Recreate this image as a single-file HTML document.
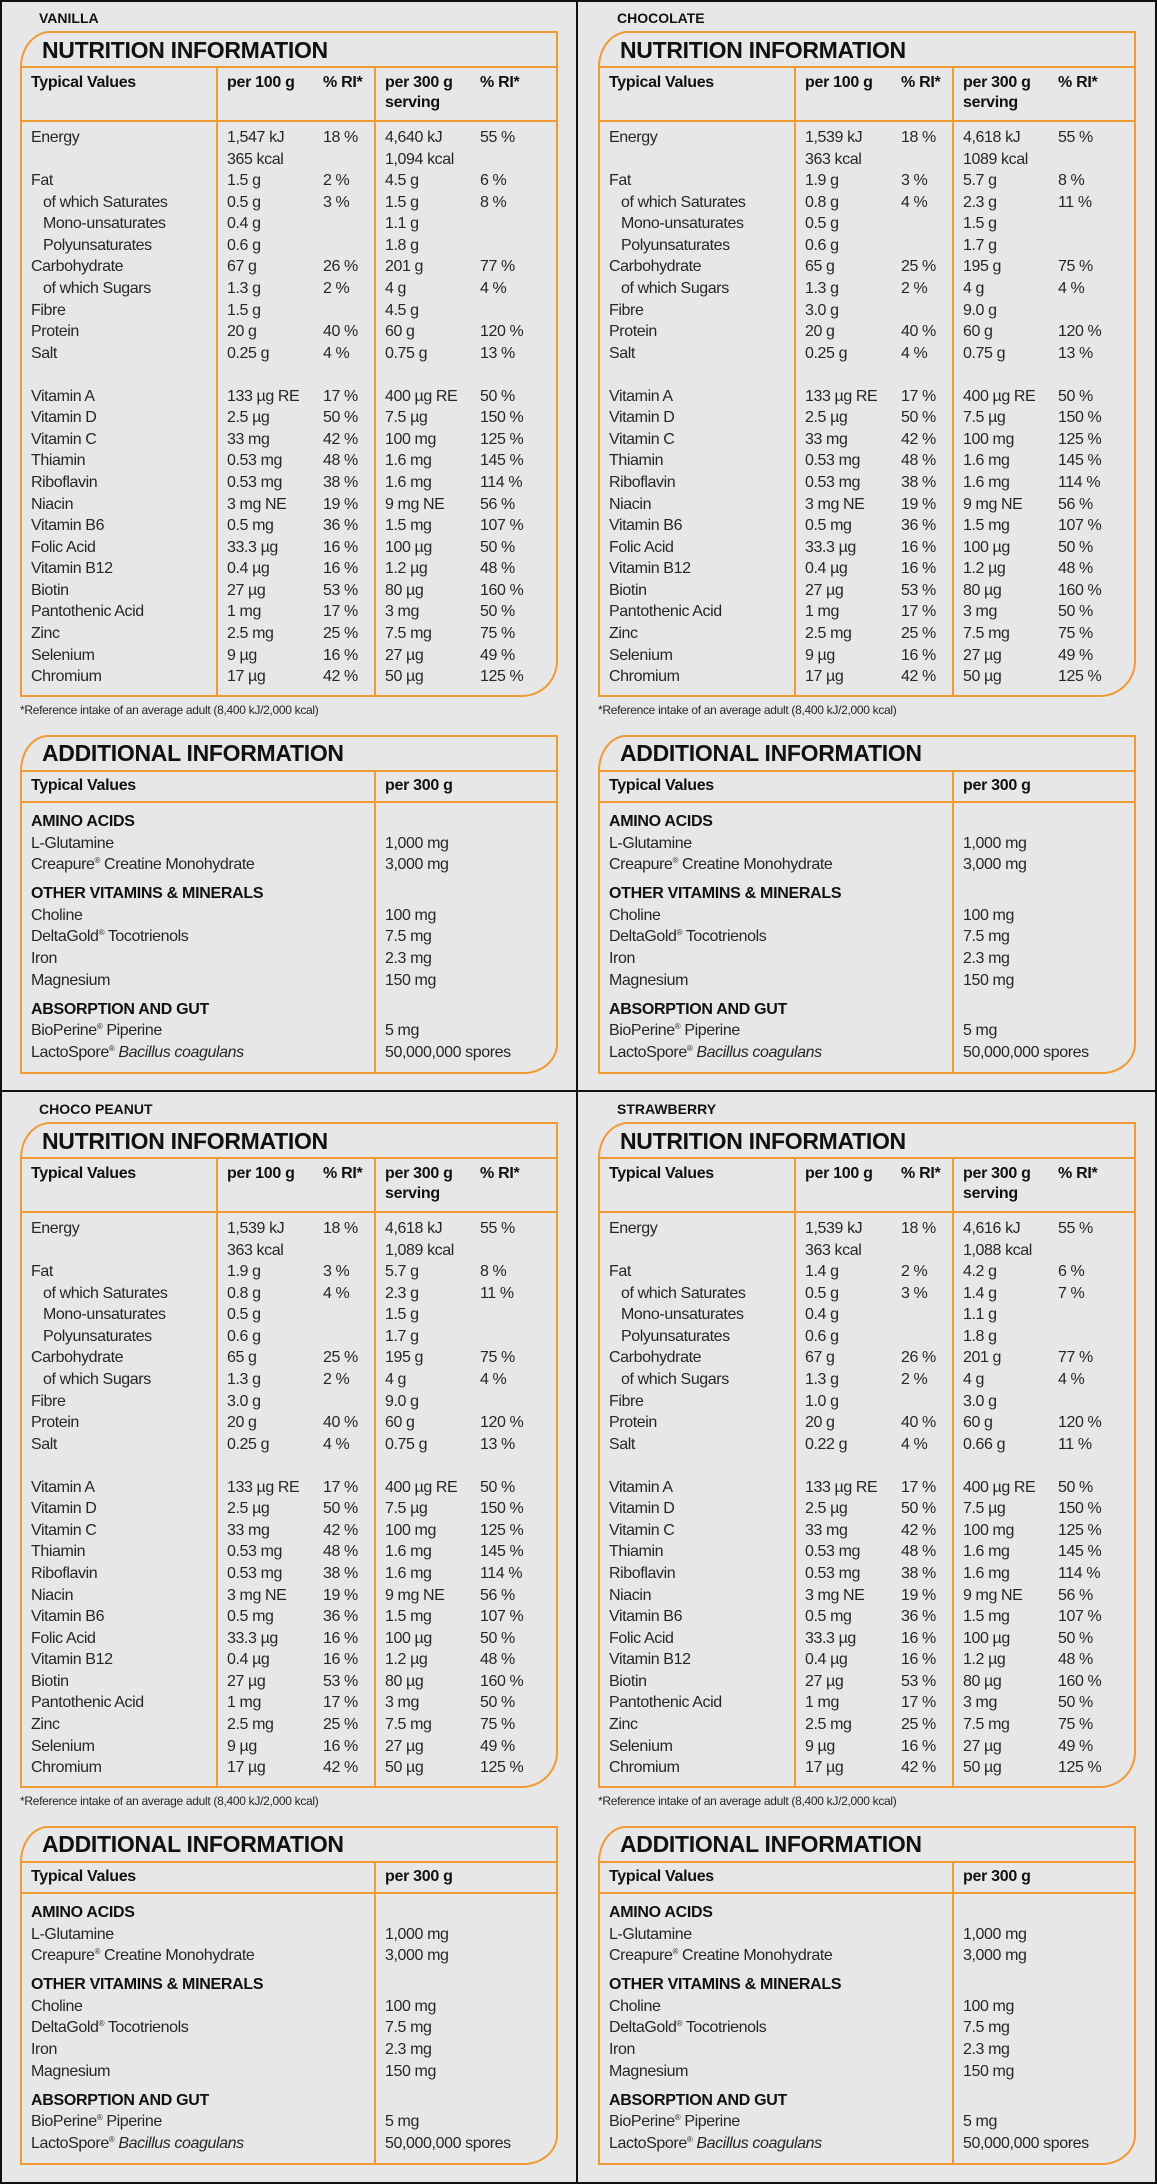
<!DOCTYPE html>
<html><head><meta charset="utf-8"><style>
*{box-sizing:border-box;margin:0;padding:0}
html,body{width:1157px;height:2184px;overflow:hidden;background:#e7e7e7}
body{position:relative;font-family:"Liberation Sans",sans-serif;color:#262626}
.frame{position:absolute;left:0;top:0;width:1157px;height:2184px;border:2px solid #111}
.vl{position:absolute;left:576px;top:0;width:2px;height:2184px;background:#111}
.hl{position:absolute;left:0;top:1090px;width:1157px;height:2px;background:#111}
.q{position:absolute;width:578px;height:1091px}
.lab{position:absolute;left:39px;top:10px;font-weight:bold;font-size:14px;color:#111}
.box{position:absolute;left:20px;width:538px;border:2px solid #f09a33}
.nb{top:31px;height:666px;border-radius:30px 0 36px 0/36px 0 36px 0}
.ab{top:735px;height:339px;border-radius:28px 0 34px 0/36px 0 30px 0}
.h{position:absolute;left:20px;width:538px;height:2px;background:#f09a33}
.v{position:absolute;width:2px;background:#f09a33}
.title{position:absolute;left:42px;font-weight:bold;font-size:23px;color:#111;letter-spacing:-0.3px;line-height:26px}
.g{position:absolute;left:31px;display:grid;grid-template-columns:196px 96px 62px 95px 70px;font-size:16px;line-height:21.57px;letter-spacing:-0.4px;white-space:nowrap}
.hd{position:absolute;left:31px;display:grid;grid-template-columns:196px 96px 62px 95px 70px;font-size:16px;font-weight:bold;line-height:20px;color:#111;letter-spacing:-0.3px}
.in{padding-left:12px}
.blank{grid-column:1/-1;height:21.57px}
.ga{position:absolute;left:31px;top:811px;display:grid;grid-template-columns:354px 170px;font-size:16px;line-height:21.6px;letter-spacing:-0.4px;white-space:nowrap}
.ga>div{height:21.6px}
.gh{font-weight:bold;color:#111;letter-spacing:-0.3px}
.ga>.gap{margin-top:7.4px}
.fn{position:absolute;left:20px;top:703px;font-size:12px;letter-spacing:-0.3px}
sup{font-size:8px;line-height:0;vertical-align:0;position:relative;top:-6px}
</style></head><body>
<div class="frame"></div><div class="vl"></div><div class="hl"></div>

<div class="q" style="left:0;top:0">
<div class="lab">VANILLA</div>
<div class="box nb"></div><div class="h" style="top:66px"></div><div class="h" style="top:120px"></div>
<div class="v" style="left:216px;top:66px;height:630px"></div><div class="v" style="left:374px;top:66px;height:630px"></div>
<div class="title" style="top:37px">NUTRITION INFORMATION</div>
<div class="hd" style="top:73px"><div>Typical Values</div><div>per 100 g</div><div>% RI*</div><div>per 300 g<br>serving</div><div>% RI*</div></div>
<div class="g" style="top:127px">
<div>Energy</div><div>1,547 kJ<br>365 kcal</div><div>18 %</div><div>4,640 kJ<br>1,094 kcal</div><div>55 %</div>
<div>Fat</div><div>1.5 g</div><div>2 %</div><div>4.5 g</div><div>6 %</div>
<div class="in">of which Saturates</div><div>0.5 g</div><div>3 %</div><div>1.5 g</div><div>8 %</div>
<div class="in">Mono-unsaturates</div><div>0.4 g</div><div></div><div>1.1 g</div><div></div>
<div class="in">Polyunsaturates</div><div>0.6 g</div><div></div><div>1.8 g</div><div></div>
<div>Carbohydrate</div><div>67 g</div><div>26 %</div><div>201 g</div><div>77 %</div>
<div class="in">of which Sugars</div><div>1.3 g</div><div>2 %</div><div>4 g</div><div>4 %</div>
<div>Fibre</div><div>1.5 g</div><div></div><div>4.5 g</div><div></div>
<div>Protein</div><div>20 g</div><div>40 %</div><div>60 g</div><div>120 %</div>
<div>Salt</div><div>0.25 g</div><div>4 %</div><div>0.75 g</div><div>13 %</div>
<div class="blank"></div>
<div>Vitamin A</div><div>133 µg RE</div><div>17 %</div><div>400 µg RE</div><div>50 %</div>
<div>Vitamin D</div><div>2.5 µg</div><div>50 %</div><div>7.5 µg</div><div>150 %</div>
<div>Vitamin C</div><div>33 mg</div><div>42 %</div><div>100 mg</div><div>125 %</div>
<div>Thiamin</div><div>0.53 mg</div><div>48 %</div><div>1.6 mg</div><div>145 %</div>
<div>Riboflavin</div><div>0.53 mg</div><div>38 %</div><div>1.6 mg</div><div>114 %</div>
<div>Niacin</div><div>3 mg NE</div><div>19 %</div><div>9 mg NE</div><div>56 %</div>
<div>Vitamin B6</div><div>0.5 mg</div><div>36 %</div><div>1.5 mg</div><div>107 %</div>
<div>Folic Acid</div><div>33.3 µg</div><div>16 %</div><div>100 µg</div><div>50 %</div>
<div>Vitamin B12</div><div>0.4 µg</div><div>16 %</div><div>1.2 µg</div><div>48 %</div>
<div>Biotin</div><div>27 µg</div><div>53 %</div><div>80 µg</div><div>160 %</div>
<div>Pantothenic Acid</div><div>1 mg</div><div>17 %</div><div>3 mg</div><div>50 %</div>
<div>Zinc</div><div>2.5 mg</div><div>25 %</div><div>7.5 mg</div><div>75 %</div>
<div>Selenium</div><div>9 µg</div><div>16 %</div><div>27 µg</div><div>49 %</div>
<div>Chromium</div><div>17 µg</div><div>42 %</div><div>50 µg</div><div>125 %</div>
</div>
<div class="fn">*Reference intake of an average adult (8,400 kJ/2,000 kcal)</div>
<div class="box ab"></div><div class="h" style="top:770px"></div><div class="h" style="top:801px"></div>
<div class="v" style="left:374px;top:770px;height:304px"></div>
<div class="title" style="top:740px">ADDITIONAL INFORMATION</div>
<div class="hd" style="top:776px"><div>Typical Values</div><div></div><div></div><div>per 300 g</div><div></div></div>
<div class="ga">
<div class="gh">AMINO ACIDS</div><div></div>
<div>L-Glutamine</div><div>1,000 mg</div>
<div>Creapure<sup>®</sup> Creatine Monohydrate</div><div>3,000 mg</div>
<div class="gh gap">OTHER VITAMINS &amp; MINERALS</div><div class="gap"></div>
<div>Choline</div><div>100 mg</div>
<div>DeltaGold<sup>®</sup> Tocotrienols</div><div>7.5 mg</div>
<div>Iron</div><div>2.3 mg</div>
<div>Magnesium</div><div>150 mg</div>
<div class="gh gap">ABSORPTION AND GUT</div><div class="gap"></div>
<div>BioPerine<sup>®</sup> Piperine</div><div>5 mg</div>
<div>LactoSpore<sup>®</sup> <i>Bacillus coagulans</i></div><div>50,000,000 spores</div>
</div>
</div>

<div class="q" style="left:578px;top:0">
<div class="lab">CHOCOLATE</div>
<div class="box nb"></div><div class="h" style="top:66px"></div><div class="h" style="top:120px"></div>
<div class="v" style="left:216px;top:66px;height:630px"></div><div class="v" style="left:374px;top:66px;height:630px"></div>
<div class="title" style="top:37px">NUTRITION INFORMATION</div>
<div class="hd" style="top:73px"><div>Typical Values</div><div>per 100 g</div><div>% RI*</div><div>per 300 g<br>serving</div><div>% RI*</div></div>
<div class="g" style="top:127px">
<div>Energy</div><div>1,539 kJ<br>363 kcal</div><div>18 %</div><div>4,618 kJ<br>1089 kcal</div><div>55 %</div>
<div>Fat</div><div>1.9 g</div><div>3 %</div><div>5.7 g</div><div>8 %</div>
<div class="in">of which Saturates</div><div>0.8 g</div><div>4 %</div><div>2.3 g</div><div>11 %</div>
<div class="in">Mono-unsaturates</div><div>0.5 g</div><div></div><div>1.5 g</div><div></div>
<div class="in">Polyunsaturates</div><div>0.6 g</div><div></div><div>1.7 g</div><div></div>
<div>Carbohydrate</div><div>65 g</div><div>25 %</div><div>195 g</div><div>75 %</div>
<div class="in">of which Sugars</div><div>1.3 g</div><div>2 %</div><div>4 g</div><div>4 %</div>
<div>Fibre</div><div>3.0 g</div><div></div><div>9.0 g</div><div></div>
<div>Protein</div><div>20 g</div><div>40 %</div><div>60 g</div><div>120 %</div>
<div>Salt</div><div>0.25 g</div><div>4 %</div><div>0.75 g</div><div>13 %</div>
<div class="blank"></div>
<div>Vitamin A</div><div>133 µg RE</div><div>17 %</div><div>400 µg RE</div><div>50 %</div>
<div>Vitamin D</div><div>2.5 µg</div><div>50 %</div><div>7.5 µg</div><div>150 %</div>
<div>Vitamin C</div><div>33 mg</div><div>42 %</div><div>100 mg</div><div>125 %</div>
<div>Thiamin</div><div>0.53 mg</div><div>48 %</div><div>1.6 mg</div><div>145 %</div>
<div>Riboflavin</div><div>0.53 mg</div><div>38 %</div><div>1.6 mg</div><div>114 %</div>
<div>Niacin</div><div>3 mg NE</div><div>19 %</div><div>9 mg NE</div><div>56 %</div>
<div>Vitamin B6</div><div>0.5 mg</div><div>36 %</div><div>1.5 mg</div><div>107 %</div>
<div>Folic Acid</div><div>33.3 µg</div><div>16 %</div><div>100 µg</div><div>50 %</div>
<div>Vitamin B12</div><div>0.4 µg</div><div>16 %</div><div>1.2 µg</div><div>48 %</div>
<div>Biotin</div><div>27 µg</div><div>53 %</div><div>80 µg</div><div>160 %</div>
<div>Pantothenic Acid</div><div>1 mg</div><div>17 %</div><div>3 mg</div><div>50 %</div>
<div>Zinc</div><div>2.5 mg</div><div>25 %</div><div>7.5 mg</div><div>75 %</div>
<div>Selenium</div><div>9 µg</div><div>16 %</div><div>27 µg</div><div>49 %</div>
<div>Chromium</div><div>17 µg</div><div>42 %</div><div>50 µg</div><div>125 %</div>
</div>
<div class="fn">*Reference intake of an average adult (8,400 kJ/2,000 kcal)</div>
<div class="box ab"></div><div class="h" style="top:770px"></div><div class="h" style="top:801px"></div>
<div class="v" style="left:374px;top:770px;height:304px"></div>
<div class="title" style="top:740px">ADDITIONAL INFORMATION</div>
<div class="hd" style="top:776px"><div>Typical Values</div><div></div><div></div><div>per 300 g</div><div></div></div>
<div class="ga">
<div class="gh">AMINO ACIDS</div><div></div>
<div>L-Glutamine</div><div>1,000 mg</div>
<div>Creapure<sup>®</sup> Creatine Monohydrate</div><div>3,000 mg</div>
<div class="gh gap">OTHER VITAMINS &amp; MINERALS</div><div class="gap"></div>
<div>Choline</div><div>100 mg</div>
<div>DeltaGold<sup>®</sup> Tocotrienols</div><div>7.5 mg</div>
<div>Iron</div><div>2.3 mg</div>
<div>Magnesium</div><div>150 mg</div>
<div class="gh gap">ABSORPTION AND GUT</div><div class="gap"></div>
<div>BioPerine<sup>®</sup> Piperine</div><div>5 mg</div>
<div>LactoSpore<sup>®</sup> <i>Bacillus coagulans</i></div><div>50,000,000 spores</div>
</div>
</div>

<div class="q" style="left:0;top:1091px">
<div class="lab">CHOCO PEANUT</div>
<div class="box nb"></div><div class="h" style="top:66px"></div><div class="h" style="top:120px"></div>
<div class="v" style="left:216px;top:66px;height:630px"></div><div class="v" style="left:374px;top:66px;height:630px"></div>
<div class="title" style="top:37px">NUTRITION INFORMATION</div>
<div class="hd" style="top:73px"><div>Typical Values</div><div>per 100 g</div><div>% RI*</div><div>per 300 g<br>serving</div><div>% RI*</div></div>
<div class="g" style="top:127px">
<div>Energy</div><div>1,539 kJ<br>363 kcal</div><div>18 %</div><div>4,618 kJ<br>1,089 kcal</div><div>55 %</div>
<div>Fat</div><div>1.9 g</div><div>3 %</div><div>5.7 g</div><div>8 %</div>
<div class="in">of which Saturates</div><div>0.8 g</div><div>4 %</div><div>2.3 g</div><div>11 %</div>
<div class="in">Mono-unsaturates</div><div>0.5 g</div><div></div><div>1.5 g</div><div></div>
<div class="in">Polyunsaturates</div><div>0.6 g</div><div></div><div>1.7 g</div><div></div>
<div>Carbohydrate</div><div>65 g</div><div>25 %</div><div>195 g</div><div>75 %</div>
<div class="in">of which Sugars</div><div>1.3 g</div><div>2 %</div><div>4 g</div><div>4 %</div>
<div>Fibre</div><div>3.0 g</div><div></div><div>9.0 g</div><div></div>
<div>Protein</div><div>20 g</div><div>40 %</div><div>60 g</div><div>120 %</div>
<div>Salt</div><div>0.25 g</div><div>4 %</div><div>0.75 g</div><div>13 %</div>
<div class="blank"></div>
<div>Vitamin A</div><div>133 µg RE</div><div>17 %</div><div>400 µg RE</div><div>50 %</div>
<div>Vitamin D</div><div>2.5 µg</div><div>50 %</div><div>7.5 µg</div><div>150 %</div>
<div>Vitamin C</div><div>33 mg</div><div>42 %</div><div>100 mg</div><div>125 %</div>
<div>Thiamin</div><div>0.53 mg</div><div>48 %</div><div>1.6 mg</div><div>145 %</div>
<div>Riboflavin</div><div>0.53 mg</div><div>38 %</div><div>1.6 mg</div><div>114 %</div>
<div>Niacin</div><div>3 mg NE</div><div>19 %</div><div>9 mg NE</div><div>56 %</div>
<div>Vitamin B6</div><div>0.5 mg</div><div>36 %</div><div>1.5 mg</div><div>107 %</div>
<div>Folic Acid</div><div>33.3 µg</div><div>16 %</div><div>100 µg</div><div>50 %</div>
<div>Vitamin B12</div><div>0.4 µg</div><div>16 %</div><div>1.2 µg</div><div>48 %</div>
<div>Biotin</div><div>27 µg</div><div>53 %</div><div>80 µg</div><div>160 %</div>
<div>Pantothenic Acid</div><div>1 mg</div><div>17 %</div><div>3 mg</div><div>50 %</div>
<div>Zinc</div><div>2.5 mg</div><div>25 %</div><div>7.5 mg</div><div>75 %</div>
<div>Selenium</div><div>9 µg</div><div>16 %</div><div>27 µg</div><div>49 %</div>
<div>Chromium</div><div>17 µg</div><div>42 %</div><div>50 µg</div><div>125 %</div>
</div>
<div class="fn">*Reference intake of an average adult (8,400 kJ/2,000 kcal)</div>
<div class="box ab"></div><div class="h" style="top:770px"></div><div class="h" style="top:801px"></div>
<div class="v" style="left:374px;top:770px;height:304px"></div>
<div class="title" style="top:740px">ADDITIONAL INFORMATION</div>
<div class="hd" style="top:776px"><div>Typical Values</div><div></div><div></div><div>per 300 g</div><div></div></div>
<div class="ga">
<div class="gh">AMINO ACIDS</div><div></div>
<div>L-Glutamine</div><div>1,000 mg</div>
<div>Creapure<sup>®</sup> Creatine Monohydrate</div><div>3,000 mg</div>
<div class="gh gap">OTHER VITAMINS &amp; MINERALS</div><div class="gap"></div>
<div>Choline</div><div>100 mg</div>
<div>DeltaGold<sup>®</sup> Tocotrienols</div><div>7.5 mg</div>
<div>Iron</div><div>2.3 mg</div>
<div>Magnesium</div><div>150 mg</div>
<div class="gh gap">ABSORPTION AND GUT</div><div class="gap"></div>
<div>BioPerine<sup>®</sup> Piperine</div><div>5 mg</div>
<div>LactoSpore<sup>®</sup> <i>Bacillus coagulans</i></div><div>50,000,000 spores</div>
</div>
</div>

<div class="q" style="left:578px;top:1091px">
<div class="lab">STRAWBERRY</div>
<div class="box nb"></div><div class="h" style="top:66px"></div><div class="h" style="top:120px"></div>
<div class="v" style="left:216px;top:66px;height:630px"></div><div class="v" style="left:374px;top:66px;height:630px"></div>
<div class="title" style="top:37px">NUTRITION INFORMATION</div>
<div class="hd" style="top:73px"><div>Typical Values</div><div>per 100 g</div><div>% RI*</div><div>per 300 g<br>serving</div><div>% RI*</div></div>
<div class="g" style="top:127px">
<div>Energy</div><div>1,539 kJ<br>363 kcal</div><div>18 %</div><div>4,616 kJ<br>1,088 kcal</div><div>55 %</div>
<div>Fat</div><div>1.4 g</div><div>2 %</div><div>4.2 g</div><div>6 %</div>
<div class="in">of which Saturates</div><div>0.5 g</div><div>3 %</div><div>1.4 g</div><div>7 %</div>
<div class="in">Mono-unsaturates</div><div>0.4 g</div><div></div><div>1.1 g</div><div></div>
<div class="in">Polyunsaturates</div><div>0.6 g</div><div></div><div>1.8 g</div><div></div>
<div>Carbohydrate</div><div>67 g</div><div>26 %</div><div>201 g</div><div>77 %</div>
<div class="in">of which Sugars</div><div>1.3 g</div><div>2 %</div><div>4 g</div><div>4 %</div>
<div>Fibre</div><div>1.0 g</div><div></div><div>3.0 g</div><div></div>
<div>Protein</div><div>20 g</div><div>40 %</div><div>60 g</div><div>120 %</div>
<div>Salt</div><div>0.22 g</div><div>4 %</div><div>0.66 g</div><div>11 %</div>
<div class="blank"></div>
<div>Vitamin A</div><div>133 µg RE</div><div>17 %</div><div>400 µg RE</div><div>50 %</div>
<div>Vitamin D</div><div>2.5 µg</div><div>50 %</div><div>7.5 µg</div><div>150 %</div>
<div>Vitamin C</div><div>33 mg</div><div>42 %</div><div>100 mg</div><div>125 %</div>
<div>Thiamin</div><div>0.53 mg</div><div>48 %</div><div>1.6 mg</div><div>145 %</div>
<div>Riboflavin</div><div>0.53 mg</div><div>38 %</div><div>1.6 mg</div><div>114 %</div>
<div>Niacin</div><div>3 mg NE</div><div>19 %</div><div>9 mg NE</div><div>56 %</div>
<div>Vitamin B6</div><div>0.5 mg</div><div>36 %</div><div>1.5 mg</div><div>107 %</div>
<div>Folic Acid</div><div>33.3 µg</div><div>16 %</div><div>100 µg</div><div>50 %</div>
<div>Vitamin B12</div><div>0.4 µg</div><div>16 %</div><div>1.2 µg</div><div>48 %</div>
<div>Biotin</div><div>27 µg</div><div>53 %</div><div>80 µg</div><div>160 %</div>
<div>Pantothenic Acid</div><div>1 mg</div><div>17 %</div><div>3 mg</div><div>50 %</div>
<div>Zinc</div><div>2.5 mg</div><div>25 %</div><div>7.5 mg</div><div>75 %</div>
<div>Selenium</div><div>9 µg</div><div>16 %</div><div>27 µg</div><div>49 %</div>
<div>Chromium</div><div>17 µg</div><div>42 %</div><div>50 µg</div><div>125 %</div>
</div>
<div class="fn">*Reference intake of an average adult (8,400 kJ/2,000 kcal)</div>
<div class="box ab"></div><div class="h" style="top:770px"></div><div class="h" style="top:801px"></div>
<div class="v" style="left:374px;top:770px;height:304px"></div>
<div class="title" style="top:740px">ADDITIONAL INFORMATION</div>
<div class="hd" style="top:776px"><div>Typical Values</div><div></div><div></div><div>per 300 g</div><div></div></div>
<div class="ga">
<div class="gh">AMINO ACIDS</div><div></div>
<div>L-Glutamine</div><div>1,000 mg</div>
<div>Creapure<sup>®</sup> Creatine Monohydrate</div><div>3,000 mg</div>
<div class="gh gap">OTHER VITAMINS &amp; MINERALS</div><div class="gap"></div>
<div>Choline</div><div>100 mg</div>
<div>DeltaGold<sup>®</sup> Tocotrienols</div><div>7.5 mg</div>
<div>Iron</div><div>2.3 mg</div>
<div>Magnesium</div><div>150 mg</div>
<div class="gh gap">ABSORPTION AND GUT</div><div class="gap"></div>
<div>BioPerine<sup>®</sup> Piperine</div><div>5 mg</div>
<div>LactoSpore<sup>®</sup> <i>Bacillus coagulans</i></div><div>50,000,000 spores</div>
</div>
</div>
</body></html>
